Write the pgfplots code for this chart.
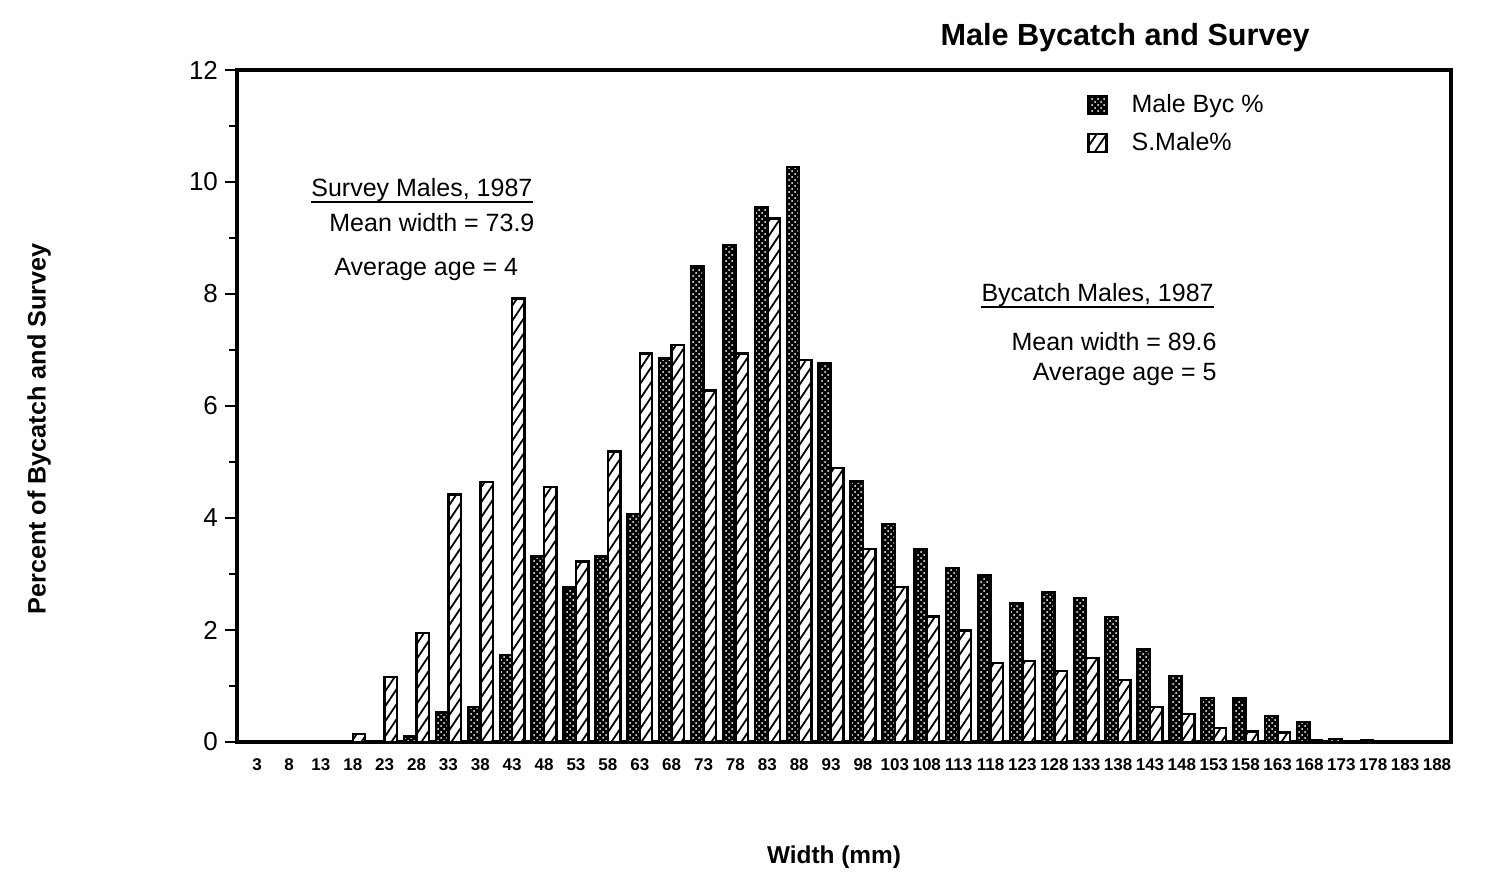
\documentclass[border=0pt]{standalone}
\usepackage{fontspec}
\setmainfont{Liberation Sans}
\usepackage{pgfplots}
\pgfplotsset{compat=1.18}
\usetikzlibrary{patterns}
\pgfdeclarepatternformonly{sparsehatch}{\pgfqpoint{-1pt}{-1pt}}{\pgfqpoint{6pt}{8.5pt}}{\pgfqpoint{5pt}{7.5pt}}{%
  \pgfsetlinewidth{0.9pt}%
  \pgfpathmoveto{\pgfqpoint{0pt}{0pt}}%
  \pgfpathlineto{\pgfqpoint{5pt}{7.5pt}}%
  \pgfusepath{stroke}}
\begin{document}
\begin{tikzpicture}
\useasboundingbox (-118.5pt,-68.5pt) rectangle (628pt,371pt);
\begin{axis}[
  at={(0pt,0pt)}, anchor=south west,
  scale only axis, width=607pt, height=336pt,
  ybar=0pt, bar width=0.39,
  xmin=-0.63, xmax=37.44, ymin=0, ymax=12,
  axis line style={line width=1.8pt},
  xtick={0,...,37},
  xticklabels={3,8,13,18,23,28,33,38,43,48,53,58,63,68,73,78,83,88,93,98,103,108,113,118,123,128,133,138,143,148,153,158,163,168,173,178,183,188},
  xtick style={draw=none},
  ytick={0,2,4,6,8,10,12}, minor y tick num=1,
  tick align=outside, ytick pos=left, xtick pos=bottom,
  major tick length=6pt, minor tick length=4pt,
  ytick style={line width=1.2pt, black},
  minor y tick style={line width=1.2pt, black},
  /pgf/number format/assume math mode=true,
  yticklabel style={font=\fontsize{13}{13}\selectfont},
  xticklabel style={font=\bfseries\fontsize{8.5}{9}\selectfont, yshift=1pt},
  legend image code/.code={\draw[#1,line width=1.2pt] (0pt,-4.5pt) rectangle (9pt,4.5pt);},
  legend style={at={(rel axis cs:0.700,0.970)}, anchor=north west, draw=none, fill=none,
    font=\fontsize{12.5}{14}\selectfont, row sep=4.5pt, column sep=10pt, inner sep=0pt,
    nodes={inner sep=2pt}},
  legend cell align=left,
]
\addplot[draw=black, line width=1.2pt, fill=black,
  postaction={pattern=crosshatch dots, pattern color=white}]
  coordinates {(5,0.10) (6,0.53) (7,0.63) (8,1.55) (9,3.31) (10,2.76) (11,3.31)
  (12,4.07) (13,6.85) (14,8.49) (15,8.87) (16,9.55) (17,10.27) (18,6.77) (19,4.65)
  (20,3.89) (21,3.45) (22,3.11) (23,2.97) (24,2.48) (25,2.67) (26,2.57) (27,2.23)
  (28,1.65) (29,1.18) (30,0.79) (31,0.78) (32,0.46) (33,0.36) (34,0.05) (35,0.03)};
\addlegendentry{Male Byc \%}
\addplot[draw=black, line width=1.2pt, fill=white,
  postaction={pattern=sparsehatch}]
  coordinates {(3,0.14) (4,1.16) (5,1.95) (6,4.42) (7,4.64) (8,7.92) (9,4.55)
  (10,3.22) (11,5.19) (12,6.94) (13,7.09) (14,6.28) (15,6.94) (16,9.35) (17,6.82)
  (18,4.89) (19,3.45) (20,2.77) (21,2.24) (22,1.99) (23,1.41) (24,1.45) (25,1.27)
  (26,1.50) (27,1.11) (28,0.62) (29,0.50) (30,0.25) (31,0.19) (32,0.17) (33,0.03)};
\addlegendentry{S.Male\%}
\end{axis}
% title
\node[anchor=base east, inner sep=0pt, font=\bfseries\fontsize{15.3}{17}\selectfont]
  at (536.5pt,348pt) {Male Bycatch and Survey};
% axis labels
\node[rotate=90, inner sep=0pt, font=\bfseries\fontsize{12.6}{14}\selectfont]
  at (-99pt,156.5pt) {Percent of Bycatch and Survey};
\node[inner sep=0pt, font=\bfseries\fontsize{12.2}{14}\selectfont]
  at (298.5pt,-57.5pt) {Width (mm)};
% annotations
\begin{scope}[every node/.style={inner sep=0pt, font=\fontsize{12.5}{14}\selectfont}]
\node[anchor=base west] (st) at (37pt,272.5pt) {Survey Males, 1987};
\draw[line width=0.9pt] ([yshift=-2.5pt]st.base west) -- ([yshift=-2.5pt]st.base east);
\node[anchor=base west] at (46pt,255pt) {Mean width = 73.9};
\node[anchor=base west] at (48.5pt,233pt) {Average age = 4};
\node[anchor=base east] (bt) at (488.5pt,220pt) {Bycatch Males, 1987};
\draw[line width=0.9pt] ([yshift=-2.5pt]bt.base west) -- ([yshift=-2.5pt]bt.base east);
\node[anchor=base east] at (490pt,196pt) {Mean width = 89.6};
\node[anchor=base east] at (490pt,181pt) {Average age = 5};
\end{scope}
\end{tikzpicture}
\end{document}
